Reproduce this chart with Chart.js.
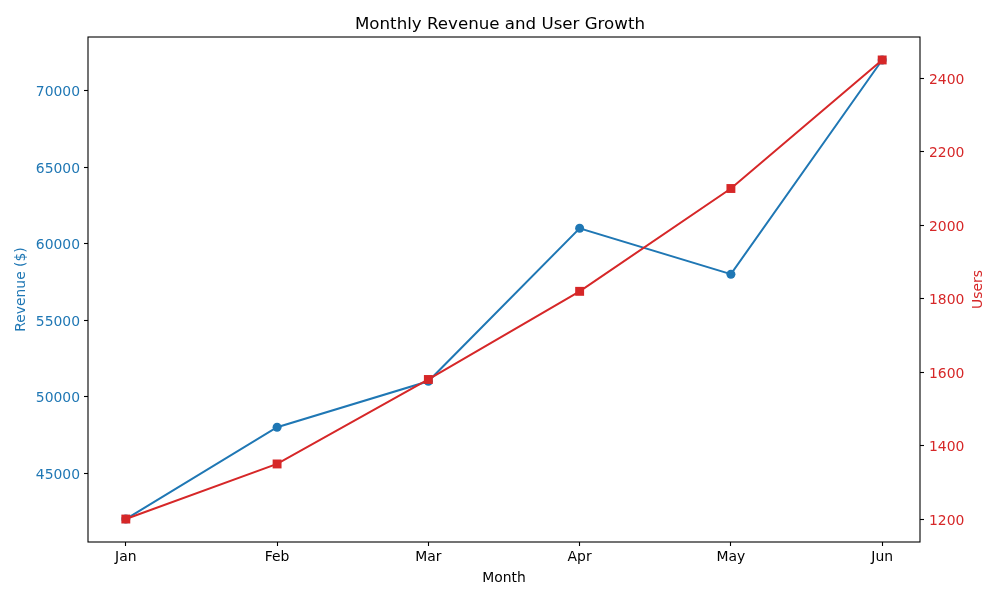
<!DOCTYPE html>
<html>
<head>
<meta charset="utf-8">
<script src="https://cdn.jsdelivr.net/npm/chart.js@4/dist/chart.umd.min.js"></script>
<style>
html,body{margin:0;padding:0;background:#fff;}
#wrap{width:1000px;height:600px;}
</style>
</head>
<body>
<div id="wrap"><canvas id="c" width="1000" height="600"></canvas></div>
<script>
const months = ["Jan", "Feb", "Mar", "Apr", "May", "Jun"];
const revenue = [42000, 48000, 51000, 61000, 58000, 72000];
const users = [1200, 1350, 1580, 1820, 2100, 2450];
const revenueTicks = [45000, 50000, 55000, 60000, 65000, 70000];
const userTicks = [1200, 1400, 1600, 1800, 2000, 2200, 2400];

const BLUE = '#1f77b4';
const RED = '#d62728';
const FONT = 'DejaVu Sans';

function pad(arr) {
  const lo = Math.min(...arr), hi = Math.max(...arr), m = (hi - lo) * 0.05;
  return [lo - m, hi + m];
}
const [rMin, rMax] = pad(revenue);
const [uMin, uMax] = pad(users);
const [xMin, xMax] = pad(months.map((_, i) => i));

const frame = {
  id: 'frame',
  afterDatasetsDraw(chart) {
    const {ctx, chartArea: a} = chart;
    ctx.save();
    ctx.strokeStyle = '#000';
    ctx.lineWidth = 1.1;
    ctx.strokeRect(a.left, a.top, a.right - a.left, a.bottom - a.top);
    ctx.restore();
  },
  afterDraw(chart) {
    // right axis title, rotated like matplotlib (reading bottom-to-top)
    const {ctx, chartArea: a} = chart;
    const s = chart.scales.y2;
    ctx.save();
    ctx.fillStyle = RED;
    ctx.font = '13.9px "' + FONT + '"';
    ctx.textAlign = 'center';
    ctx.textBaseline = 'middle';
    ctx.translate(s.right - 22, (a.top + a.bottom) / 2);
    ctx.rotate(-Math.PI / 2);
    ctx.fillText('Users', 0, 0);
    ctx.restore();
  }
};

const tickGrid = {display: true, drawOnChartArea: false, drawTicks: true, tickLength: 4, tickColor: '#000', tickWidth: 1.1, color: '#000'};

new Chart(document.getElementById('c'), {
  type: 'line',
  data: {
    datasets: [
      {
        label: 'Users',
        data: users.map((v, i) => ({x: i, y: v})),
        yAxisID: 'y2',
        borderColor: RED,
        backgroundColor: RED,
        borderWidth: 2,
        pointStyle: 'rect',
        pointRadius: 6.3,
        pointHoverRadius: 6.3,
        pointBorderWidth: 0,
        tension: 0,
        order: 0
      },
      {
        label: 'Revenue',
        data: revenue.map((v, i) => ({x: i, y: v})),
        yAxisID: 'y',
        borderColor: BLUE,
        backgroundColor: BLUE,
        borderWidth: 2,
        pointStyle: 'circle',
        pointRadius: 4.5,
        pointHoverRadius: 4.5,
        pointBorderWidth: 0,
        tension: 0,
        order: 1
      }
    ]
  },
  options: {
    responsive: false,
    animation: false,
    devicePixelRatio: 1,
    layout: {padding: 0},
    plugins: {
      legend: {display: false},
      tooltip: {enabled: false},
      title: {
        display: true,
        text: 'Monthly Revenue and User Growth',
        color: '#000',
        font: {family: FONT, size: 16.67, weight: 'normal'},
        padding: {top: 15, bottom: 2}
      }
    },
    scales: {
      x: {
        type: 'linear',
        position: 'bottom',
        min: xMin, max: xMax,
        afterBuildTicks: s => { s.ticks = months.map((_, i) => ({value: i})); },
        afterFit: s => { s.height = 58; },
        ticks: {
          color: '#000',
          font: {family: FONT, size: 13.9},
          padding: 3,
          maxRotation: 0,
          autoSkip: false,
          callback: v => months[v]
        },
        grid: tickGrid,
        border: {display: false},
        title: {
          display: true, text: 'Month', color: '#000',
          font: {family: FONT, size: 13.9},
          padding: {top: 0, bottom: 13.5}
        }
      },
      y: {
        type: 'linear',
        position: 'left',
        min: rMin, max: rMax,
        afterBuildTicks: s => { s.ticks = revenueTicks.map(v => ({value: v})); },
        afterFit: s => { s.width = 88; },
        ticks: {
          color: BLUE,
          font: {family: FONT, size: 13.9},
          padding: 4,
          labelOffset: 2,
          autoSkip: false,
          callback: v => String(v)
        },
        grid: tickGrid,
        border: {display: false},
        title: {
          display: true, text: 'Revenue ($)', color: BLUE,
          font: {family: FONT, size: 13.9},
          padding: {top: 13, bottom: 0}
        }
      },
      y2: {
        type: 'linear',
        position: 'right',
        min: uMin, max: uMax,
        afterBuildTicks: s => { s.ticks = userTicks.map(v => ({value: v})); },
        afterFit: s => { s.width = 80; },
        ticks: {
          color: RED,
          font: {family: FONT, size: 13.9},
          padding: 5,
          labelOffset: 2,
          autoSkip: false,
          callback: v => String(v)
        },
        grid: tickGrid,
        border: {display: false},
        title: {display: false}
      }
    }
  },
  plugins: [frame]
});
</script>
</body>
</html>
